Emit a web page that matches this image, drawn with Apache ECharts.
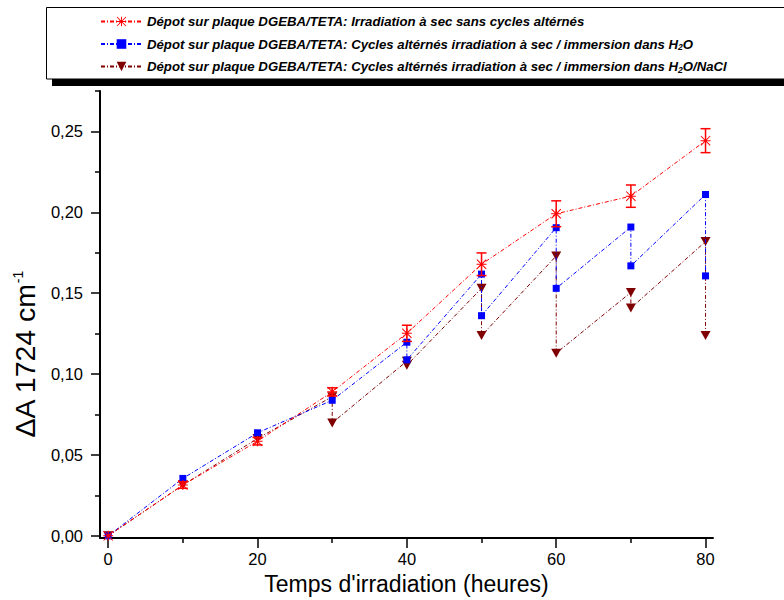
<!DOCTYPE html>
<html><head><meta charset="utf-8">
<script src="https://cdn.jsdelivr.net/npm/echarts@6/dist/echarts.min.js"></script>
<style>html,body{margin:0;padding:0;background:#fff}#c{width:784px;height:600px}</style>
</head><body><div id="c"></div>
<script>
const names = [
  'Dépot sur plaque DGEBA/TETA: Irradiation à sec sans cycles altérnés',
  'Dépot sur plaque DGEBA/TETA: Cycles altérnés irradiation à sec / immersion dans H2O',
  'Dépot sur plaque DGEBA/TETA: Cycles altérnés irradiation à sec / immersion dans H2O/NaCl'
];
const dryX = [0, 10, 20, 30, 40, 50, 60, 70, 80];
const dryY = [0, 0.0314, 0.0585, 0.0890, 0.1252, 0.1679, 0.1991, 0.2100, 0.2443];
const dryErr = [0, 0.0020, 0.0023, 0.0025, 0.0050, 0.0070, 0.0080, 0.0069, 0.0074];
const h2oX = [0, 10, 20, 30, 40, 40, 50, 50, 60, 60, 70, 70, 80, 80];
const h2oY = [0, 0.0355, 0.0637, 0.0838, 0.1197, 0.1088, 0.1618, 0.1361, 0.1905, 0.1530, 0.1909, 0.1669, 0.2110, 0.1607];
const naclX = [0, 10, 20, 30, 30, 40, 40, 50, 50, 60, 60, 70, 70, 80, 80];
const naclY = [0, 0.0314, 0.0602, 0.0860, 0.0698, 0.1080, 0.1055, 0.1530, 0.1238, 0.1730, 0.1129, 0.1505, 0.1408, 0.1819, 0.1238];
const xTicks = [0, 20, 40, 60, 80];
const xMinorTicks = [10, 30, 50, 70];
const yTicks = [0, 0.05, 0.10, 0.15, 0.20, 0.25];
const yMinorTicks = [0.025, 0.075, 0.125, 0.175, 0.225, 0.275];

const starPath = 'path://M9,0L11,0L11,20L9,20Z M0,9L20,9L20,11L0,11Z M0,1.4L1.4,0L20,18.6L18.6,20Z M18.6,0L20,1.4L1.4,20L0,18.6Z';
const pair = (xs, ys) => xs.map((x, i) => [x, ys[i]]);
const X_MIN = -1.1, X_MAX = 81, Y_MIN = -0.0014, Y_MAX = 0.275;
const dash = [4, 2, 1, 2];
const legendFont = {fontFamily: 'Liberation Sans', fontWeight: 'bold', fontStyle: 'italic', fontSize: 13.2, color: '#000', lineHeight: 15};

const chart = echarts.init(document.getElementById('c'), null, {renderer: 'svg'});
chart.setOption({
  animation: false,
  backgroundColor: '#fff',
  grid: {left: 100, right: 71, top: 91, bottom: 60, containLabel: false},
  graphic: [
    {type: 'rect', z: 0, shape: {x: 52, y: 79, width: 800, height: 7}, style: {fill: '#000'}},
    {type: 'rect', z: 0, shape: {x: 46.5, y: 7.5, width: 800, height: 71.5}, style: {fill: '#fff', stroke: '#000', lineWidth: 1}}
  ],
  legend: {
    data: names,
    orient: 'vertical',
    left: 100, top: 14,
    itemWidth: 41, itemHeight: 12, itemGap: 6.5,
    padding: 0,
    selectedMode: false,
    formatter: n => n.split('H2O').map(s => '{t|' + s + '}').join('{t|H}{s|2}{t|O}').replace(/\{t\|\}/g, ''),
    textStyle: {
      ...legendFont,
      rich: {
        t: {...legendFont},
        s: {...legendFont, fontSize: 8.5, verticalAlign: 'bottom', padding: [7, 0, 0, 0]}
      }
    }
  },
  xAxis: [{
    type: 'value', min: X_MIN, max: X_MAX, position: 'bottom',
    name: "Temps d'irradiation (heures)", nameLocation: 'middle', nameGap: 28,
    nameTextStyle: {fontFamily: 'Liberation Sans', fontSize: 23, color: '#000'},
    axisLine: {show: true, onZero: false, lineStyle: {color: '#000', width: 2}},
    axisTick: {show: true, customValues: xTicks, length: 10, lineStyle: {color: '#000', width: 1.5}},
    axisLabel: {customValues: xTicks, margin: 12, fontFamily: 'Liberation Sans', fontSize: 16.5, color: '#000'},
    splitLine: {show: false}
  }, {
    type: 'value', min: X_MIN, max: X_MAX, position: 'bottom',
    axisLine: {show: false, onZero: false},
    axisTick: {show: true, customValues: xMinorTicks, length: 5, lineStyle: {color: '#000', width: 1.5}},
    axisLabel: {show: false}, splitLine: {show: false}
  }],
  yAxis: [{
    type: 'value', min: Y_MIN, max: Y_MAX, position: 'left',
    name: '{n|ΔA 1724 cm}{s|-1}', nameLocation: 'middle', nameRotate: 90, nameGap: 59,
    nameTextStyle: {
      padding: [0, 80, 0, 0],
      rich: {
        n: {fontFamily: 'Liberation Sans', fontSize: 28.5, color: '#000'},
        s: {fontFamily: 'Liberation Sans', fontSize: 14, color: '#000', verticalAlign: 'top', padding: [0, 0, 13, 0]}
      }
    },
    axisLine: {show: true, onZero: false, lineStyle: {color: '#000', width: 2}},
    axisTick: {show: true, customValues: yTicks, length: 9, lineStyle: {color: '#000', width: 1.5}},
    axisLabel: {customValues: yTicks, margin: 17, fontFamily: 'Liberation Sans', fontSize: 16.5, color: '#000',
      formatter: v => v.toFixed(2).replace('.', ',')},
    splitLine: {show: false}
  }, {
    type: 'value', min: Y_MIN, max: Y_MAX, position: 'left',
    axisLine: {show: false, onZero: false},
    axisTick: {show: true, customValues: yMinorTicks, length: 5, lineStyle: {color: '#000', width: 1.5}},
    axisLabel: {show: false}, splitLine: {show: false}
  }],
  series: [
    {
      name: names[0], type: 'line', data: pair(dryX, dryY), z: 4,
      symbol: starPath, symbolSize: 10,
      itemStyle: {color: '#ff0000'},
      lineStyle: {color: '#ff0000', width: 1, type: dash}
    },
    {
      name: names[1], type: 'line', data: pair(h2oX, h2oY), z: 3,
      symbol: 'rect', symbolSize: 7,
      itemStyle: {color: '#0000ff'},
      lineStyle: {color: '#0000ff', width: 1, type: dash}
    },
    {
      name: names[2], type: 'line', data: pair(naclX, naclY), z: 2,
      symbol: 'triangle', symbolSize: [10, 9], symbolRotate: 180,
      itemStyle: {color: '#7f0000'},
      lineStyle: {color: '#7f0000', width: 1, type: dash}
    },
    {
      name: 'err', type: 'custom', z: 5,
      data: dryX.map((x, i) => [x, dryY[i], dryErr[i]]),
      encode: {x: 0, y: 1},
      renderItem: (params, api) => {
        const x = api.value(0), y = api.value(1), e = api.value(2);
        if (!e) return null;
        const t = api.coord([x, y + e]), b = api.coord([x, y - e]);
        const hw = 5, st = {stroke: '#ff0000', lineWidth: 1.5};
        return {type: 'group', children: [
          {type: 'line', shape: {x1: t[0], y1: t[1], x2: b[0], y2: b[1]}, style: st},
          {type: 'line', shape: {x1: t[0] - hw, y1: t[1], x2: t[0] + hw, y2: t[1]}, style: st},
          {type: 'line', shape: {x1: b[0] - hw, y1: b[1], x2: b[0] + hw, y2: b[1]}, style: st}
        ]};
      }
    }
  ]
});
</script></body></html>
